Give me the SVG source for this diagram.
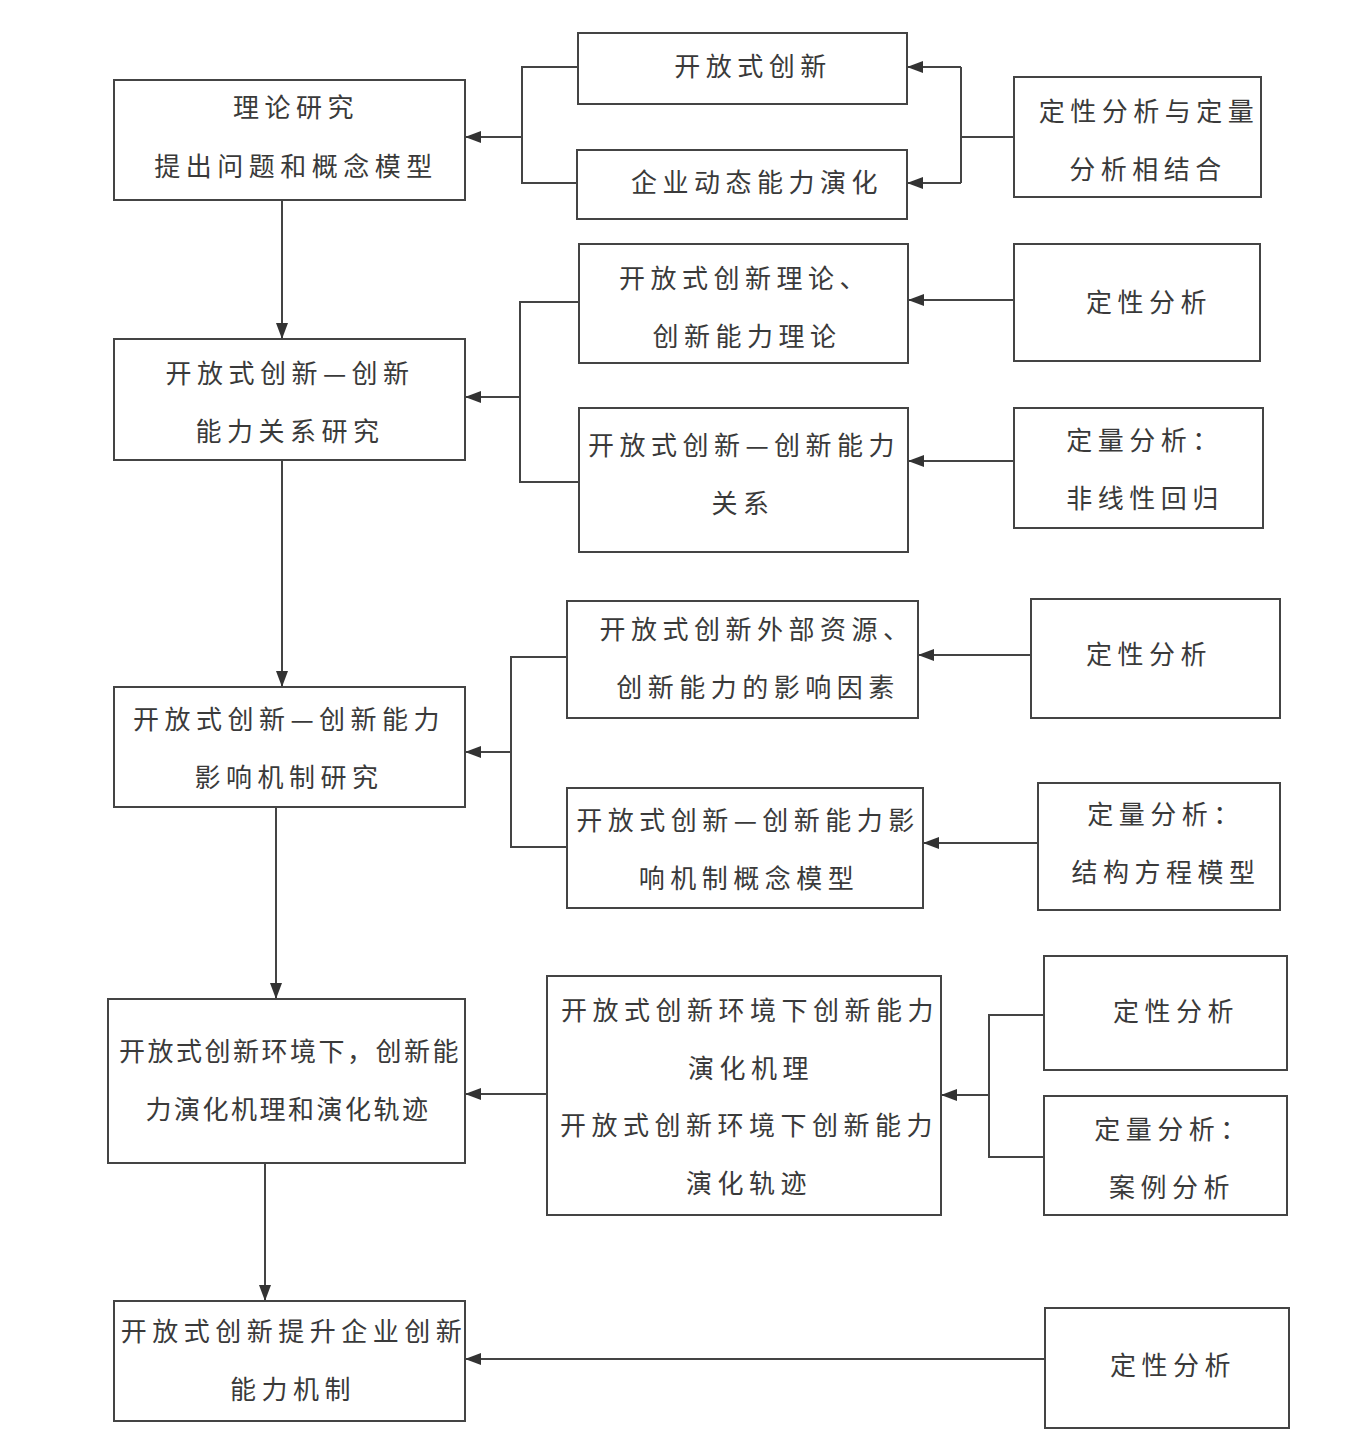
<svg xmlns="http://www.w3.org/2000/svg" width="1357" height="1453" viewBox="0 0 1357 1453">
<defs>
<marker id="ah" markerUnits="userSpaceOnUse" markerWidth="16" markerHeight="12" refX="15" refY="6" orient="auto">
<path d="M0,0 L16,6 L0,12 Z" fill="#333"/>
</marker>
<style>
.box{fill:#fff;stroke:#444;stroke-width:2}
.t{font-family:"Noto Sans CJK SC","Noto Sans",sans-serif;font-size:26px;letter-spacing:5.5px;fill:#3a3a3a;text-anchor:middle}
.tn{letter-spacing:2.5px}
.ln{fill:none;stroke:#444;stroke-width:2}
.ar{fill:none;stroke:#444;stroke-width:2;marker-end:url(#ah)}
</style>
</defs>
<rect width="1357" height="1453" fill="#fff"/>

<g id="connectors">
<path class="ln" d="M1014,137 H961 V67"/>
<path class="ln" d="M961,137 V183"/>
<path class="ar" d="M961,67 H908"/>
<path class="ar" d="M961,183 H908"/>
<path class="ln" d="M578,67 H522 V183 H577"/>
<path class="ar" d="M522,137 H466"/>
<path class="ar" d="M282,200 V338"/>
<path class="ar" d="M1014,300 H909"/>
<path class="ar" d="M1014,461 H909"/>
<path class="ln" d="M579,302 H520 V482 H579"/>
<path class="ar" d="M520,397 H466"/>
<path class="ar" d="M282,460 V686"/>
<path class="ar" d="M1031,655 H919"/>
<path class="ar" d="M1038,843 H924"/>
<path class="ln" d="M567,657 H511 V847 H567"/>
<path class="ar" d="M511,752 H466"/>
<path class="ar" d="M276,807 V998"/>
<path class="ln" d="M1044,1015 H989 V1157 H1044"/>
<path class="ar" d="M989,1095 H942"/>
<path class="ar" d="M547,1094 H466"/>
<path class="ar" d="M265,1163 V1300"/>
<path class="ar" d="M1045,1359 H466"/>
</g>

<g id="L1"><rect class="box" x="114" y="80" width="351" height="120"/>
<text class="t" x="296" y="117">理论研究</text><text class="t" x="296" y="176">提出问题和概念模型</text></g>
<g id="L2"><rect class="box" x="114" y="339" width="351" height="121"/>
<text class="t" x="290" y="383">开放式创新—创新</text><text class="t" x="290" y="441">能力关系研究</text></g>
<g id="L3"><rect class="box" x="114" y="687" width="351" height="120"/>
<text class="t" x="289" y="729">开放式创新—创新能力</text><text class="t" x="289" y="787">影响机制研究</text></g>
<g id="L4"><rect class="box" x="108" y="999" width="357" height="164"/>
<text class="t tn" x="290" y="1061">开放式创新环境下，创新能</text><text class="t tn" x="288" y="1119">力演化机理和演化轨迹</text></g>
<g id="L5"><rect class="box" x="114" y="1301" width="351" height="120"/>
<text class="t" x="294" y="1341">开放式创新提升企业创新</text><text class="t" x="293" y="1399">能力机制</text></g>

<g id="M1"><rect class="box" x="578" y="33" width="329" height="71"/>
<text class="t" x="753" y="76">开放式创新</text></g>
<g id="M2"><rect class="box" x="577" y="150" width="330" height="69"/>
<text class="t" x="757" y="192">企业动态能力演化</text></g>
<g id="M3"><rect class="box" x="579" y="244" width="329" height="119"/>
<text class="t" x="745" y="288">开放式创新理论、</text><text class="t" x="747" y="346">创新能力理论</text></g>
<g id="M4"><rect class="box" x="579" y="408" width="329" height="144"/>
<text class="t" x="744" y="455">开放式创新—创新能力</text><text class="t" x="743" y="513">关系</text></g>
<g id="M5"><rect class="box" x="567" y="601" width="351" height="117"/>
<text class="t" x="757" y="639">开放式创新外部资源、</text><text class="t" x="758" y="697">创新能力的影响因素</text></g>
<g id="M6"><rect class="box" x="567" y="788" width="356" height="120"/>
<text class="t" x="748" y="830">开放式创新—创新能力影</text><text class="t" x="749" y="888">响机制概念模型</text></g>
<g id="M7"><rect class="box" x="547" y="976" width="394" height="239"/>
<text class="t" x="750" y="1020">开放式创新环境下创新能力</text><text class="t" x="751" y="1078">演化机理</text>
<text class="t" x="749" y="1135">开放式创新环境下创新能力</text><text class="t" x="749" y="1193">演化轨迹</text></g>

<g id="R1"><rect class="box" x="1014" y="77" width="247" height="120"/>
<text class="t" x="1149" y="121">定性分析与定量</text><text class="t" x="1148" y="179">分析相结合</text></g>
<g id="R2"><rect class="box" x="1014" y="244" width="246" height="117"/>
<text class="t" x="1149" y="312">定性分析</text></g>
<g id="R3"><rect class="box" x="1014" y="408" width="249" height="120"/>
<text class="t" x="1145" y="450">定量分析：</text><text class="t" x="1145" y="508">非线性回归</text></g>
<g id="R4"><rect class="box" x="1031" y="599" width="249" height="119"/>
<text class="t" x="1149" y="664">定性分析</text></g>
<g id="R5"><rect class="box" x="1038" y="783" width="242" height="127"/>
<text class="t" x="1166" y="824">定量分析：</text><text class="t" x="1166" y="882">结构方程模型</text></g>
<g id="R6"><rect class="box" x="1044" y="956" width="243" height="114"/>
<text class="t" x="1176" y="1021">定性分析</text></g>
<g id="R7"><rect class="box" x="1044" y="1096" width="243" height="119"/>
<text class="t" x="1173" y="1139">定量分析：</text><text class="t" x="1172" y="1197">案例分析</text></g>
<g id="R8"><rect class="box" x="1045" y="1308" width="244" height="120"/>
<text class="t" x="1173" y="1375">定性分析</text></g>
</svg>
